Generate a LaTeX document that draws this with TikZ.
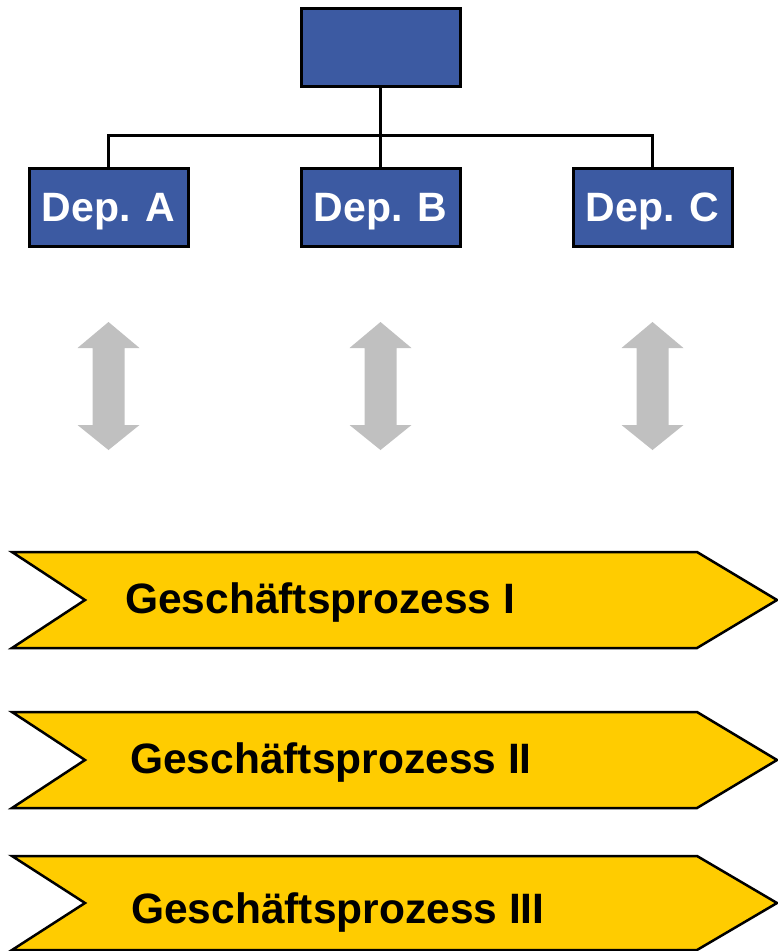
\documentclass[tikz,border=0pt]{standalone}
\usepackage{fontspec}
\setmainfont{Liberation Sans}
\usetikzlibrary{positioning}

\definecolor{depblue}{RGB}{60,90,162}
\definecolor{procyellow}{RGB}{255,204,0}
\definecolor{arrowgray}{RGB}{192,192,192}

\tikzset{
  depbox/.style={draw=black, fill=depblue, line width=3pt, minimum width=159pt,
    minimum height=78pt, inner sep=0pt, text=white, text height=29pt, text depth=0pt,
    font=\fontsize{41}{45}\selectfont\bfseries},
  orgline/.style={line width=2.5pt},
  procshape/.style={draw=black, fill=procyellow, line width=2.5pt, line join=miter},
  proctext/.style={anchor=base west, inner sep=0pt,
    font=\fontsize{42.5}{46}\selectfont\bfseries}
}

\begin{document}
\begin{tikzpicture}[x=1pt,y=-1pt]
\useasboundingbox (0,0) rectangle (777,951);

% organigram
\node[depbox] (top) at (380.5,47.5) {};
\node[depbox] (depa) at (108.5,207) {Dep. A};
\node[depbox] (depb) at (380.5,207) {Dep. B};
\node[depbox] (depc) at (652.5,207) {Dep. C};

\coordinate (bus) at (380.5,135.5);
\draw[orgline] (top.south) -- (bus);
\draw[orgline] (depa.north) |- (bus) -| (depc.north);
\draw[orgline] (bus) -- (depb.north);

% double arrows
\foreach \ax in {108.5,380.5,652.5}{
  \fill[arrowgray] (\ax,322) -- ++(31,26) -- ++(-15,0) -- ++(0,77) -- ++(15,0)
    -- (\ax,450) -- ++(-31,-25) -- ++(15,0) -- ++(0,-77) -- ++(-15,0) -- cycle;
}

% process chevrons
\foreach \ytop/\ybot/\tx/\ty/\lbl/\nm in {552/648/125/613/I/proca,
    712/808/130/773/II/procb, 856/950/131/923/III/procc}{
  \pgfmathsetmacro{\ymid}{(\ytop+\ybot)/2}
  \draw[procshape] (12,\ytop) -- (697,\ytop) -- (777,\ymid) -- (697,\ybot)
    -- (12,\ybot) -- (85,\ymid) -- cycle;
  \node[proctext] (\nm) at (\tx,\ty) {Geschäftsprozess \lbl};
}

\end{tikzpicture}
\end{document}
